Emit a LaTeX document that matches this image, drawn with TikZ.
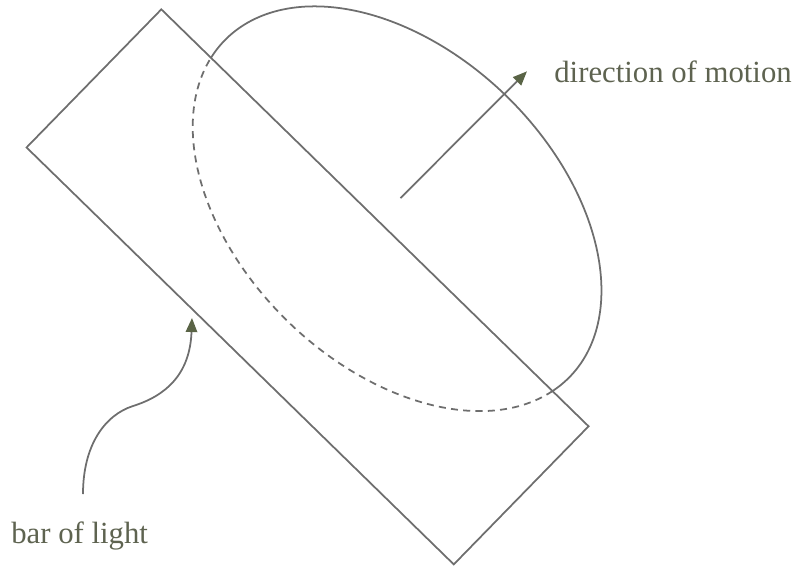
\documentclass[tikz,border=0pt]{standalone}
\usepackage{fontspec}
\setmainfont{Liberation Serif}
\usetikzlibrary{arrows.meta}
\definecolor{inkgray}{HTML}{6E6E6E}
\definecolor{textolive}{HTML}{5E6350}
\definecolor{tipolive}{HTML}{5A6446}

\begin{document}
\begin{tikzpicture}[
    x=0.02cm, y=-0.02cm,
    >={Triangle[length=8pt, width=6.5pt, color=tipolive]},
    line/.style={draw=inkgray, line width=1pt},
    lbl/.style={font=\fontsize{17.5}{21}\selectfont, text=textolive,
                inner sep=0pt, anchor=base west}
  ]
  \useasboundingbox (0,0) rectangle (799,566);
  \node[lbl] (motion) at (554,82) {direction of motion};
  \node[lbl] (barlbl) at (11,543) {bar of light};

  \begin{scope}[x={(-44.3:0.02cm)}, y={(45.7:0.02cm)}]
    \draw[line] (122,-87) -- (719,-87) -- (719,106) -- (122,106) -- cycle;
    \draw[line] (668.6,106) arc[start angle=-8.05, end angle=188.05,
                                x radius=241, y radius=157];
    \draw[line, dash pattern=on 4pt off 3pt] (668.6,106)
      arc[start angle=-8.05, end angle=-171.95, x radius=241, y radius=157];
    \coordinate (dirstart) at (425,138);
    \coordinate (dirtip) at (427,317);
  \end{scope}

  \coordinate (barstart) at (83,494);
  \coordinate (bartip) at (192,318);
  \draw[line, ->] (dirstart) -- (dirtip);
  \draw[line, ->] (barstart) .. controls (83,445) and (105,415) .. (133,406)
    .. controls (165,396) and (190,375) .. (bartip);
\end{tikzpicture}
\end{document}
